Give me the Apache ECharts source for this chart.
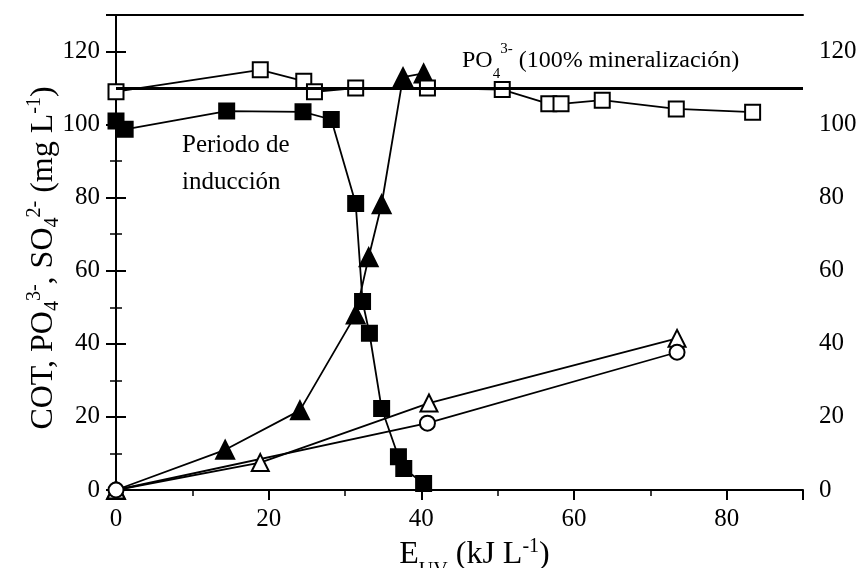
<!DOCTYPE html>
<html>
<head>
<meta charset="utf-8">
<script src="https://cdn.jsdelivr.net/npm/echarts@6/dist/echarts.min.js"></script>
<style>
  html, body { margin: 0; padding: 0; background: #fff; }
  #chart { width: 861px; height: 568px; }
</style>
</head>
<body>
<div id="chart"></div>
<script>
// data: [E_UV (kJ/L), mg/L]
var cotFilled = [[0, 101], [1.2, 98.7], [14.5, 103.7], [24.5, 103.5], [28.2, 101.4], [31.4, 78.4],
  [32.3, 51.6], [33.2, 42.9], [34.8, 22.3], [37.0, 9.1], [37.7, 5.9], [40.3, 1.8]];
var po4Open = [[0, 109], [18.9, 115], [24.6, 111.9], [26, 109], [31.4, 110], [40.8, 110],
  [50.6, 109.6], [56.7, 105.7], [58.3, 105.7], [63.7, 106.7], [73.4, 104.3], [83.4, 103.4]];
var so4Filled = [[0, 0], [14.3, 11], [24.1, 21.8], [31.4, 48], [33.1, 63.7], [34.8, 78.2],
  [37.6, 113], [40.3, 114]];
var triOpen = [[0, 0], [18.9, 7.5], [41, 23.8], [73.5, 41.5]];
var circOpen = [[0, 0], [40.8, 18.3], [73.5, 37.7]];
var mineralLevel = 110;

var font = 'Liberation Serif';

var myChart = echarts.init(document.getElementById('chart'));

function yAxisDef(pos) {
  return {
    type: 'value',
    position: pos,
    min: 0, max: 130, interval: 20,
    axisLine: { show: true, lineStyle: { color: '#000', width: 2 } },
    axisTick: { show: true, inside: false, length: 10, lineStyle: { color: '#000', width: 2 } },
    minorTick: { show: true, splitNumber: 2, length: 6, lineStyle: { color: '#000', width: 1.5 } },
    axisLabel: { color: '#000', fontFamily: font, fontSize: 25, margin: 16,
      formatter: function (v) { return v > 120 ? '' : v; } },
    splitLine: { show: false }
  };
}

function series(name, data, symbol, filled, size) {
  return {
    name: name,
    type: 'line',
    data: data,
    symbol: symbol,
    symbolSize: size,
    showAllSymbol: true,
    lineStyle: { color: '#000', width: 1.8 },
    itemStyle: { color: filled ? '#000' : '#fff', borderColor: '#000', borderWidth: 2 },
    z: filled ? 3 : 4
  };
}

var option = {
  backgroundColor: '#fff',
  animation: false,
  grid: { left: 116, right: 58, top: 15, bottom: 78, outerBoundsMode: 'none', containLabel: false },
  xAxis: [{
    type: 'value',
    min: 0, max: 90, interval: 20,
    axisLine: { show: true, onZero: false, lineStyle: { color: '#000', width: 2 } },
    axisTick: { show: true, length: 10, lineStyle: { color: '#000', width: 2 } },
    minorTick: { show: true, splitNumber: 2, length: 6, lineStyle: { color: '#000', width: 1.5 } },
    axisLabel: { color: '#000', fontFamily: font, fontSize: 25, margin: 17,
      formatter: function (v) { return v > 80 ? '' : v; } },
    splitLine: { show: false },
    name: '{n|E}{sub|UV}{n| (kJ L}{sup|-1}{n|)}',
    nameLocation: 'middle',
    nameGap: 42,
    nameTextStyle: {
      color: '#000', fontFamily: font, fontSize: 32,
      padding: [0, 0, 0, 30],
      rich: {
        n: { fontFamily: font, fontSize: 32, color: '#000', lineHeight: 36 },
        sub: { fontFamily: font, fontSize: 20, color: '#000', lineHeight: 18, verticalAlign: 'bottom', padding: [0, 0, -8, 0] },
        sup: { fontFamily: font, fontSize: 20, color: '#000', lineHeight: 18, verticalAlign: 'top' }
      }
    }
  }, {
    type: 'value',
    position: 'top',
    min: 0, max: 90,
    axisLine: { show: true, onZero: false, lineStyle: { color: '#000', width: 2 } },
    axisTick: { show: false },
    axisLabel: { show: false },
    splitLine: { show: false }
  }],
  yAxis: [yAxisDef('left'), yAxisDef('right')],
  graphic: [{
    type: 'text',
    x: 44, y: 258,
    rotation: Math.PI / 2,
    style: {
      text: '{n|COT, PO}{sub|4}{sup|3-}{n|, SO}{sub|4}{sup|2-}{n| (mg L}{sup|-1}{n|)}',
      align: 'center', verticalAlign: 'middle',
      rich: {
        n: { fontFamily: font, fontSize: 32, fill: '#000', lineHeight: 38 },
        sub: { fontFamily: font, fontSize: 20, fill: '#000', lineHeight: 18, verticalAlign: 'bottom' },
        sup: { fontFamily: font, fontSize: 20, fill: '#000', lineHeight: 18, verticalAlign: 'top' }
      }
    }
  }, {
    type: 'text',
    x: 182, y: 127,
    style: { text: 'Periodo de\ninducción', fontFamily: font, fontSize: 25, fill: '#000', lineHeight: 37 }
  }, {
    type: 'text',
    x: 462, y: 46,
    style: {
      text: '{n|PO}{sub|4}{sup|3-}{n| (100% mineralización)}',
      rich: {
        n: { fontFamily: font, fontSize: 24, fill: '#000', lineHeight: 30 },
        sub: { fontFamily: font, fontSize: 15, fill: '#000', lineHeight: 14, verticalAlign: 'bottom', padding: [0, 0, -6, 0] },
        sup: { fontFamily: font, fontSize: 15, fill: '#000', lineHeight: 14, verticalAlign: 'top', padding: [-4, 0, 0, 0] }
      }
    }
  }],
  series: [
    series('COT', cotFilled, 'rect', true, 15),
    series('PO4', po4Open, 'rect', false, 15),
    series('SO4', so4Filled, 'triangle', true, 18),
    series('open triangles', triOpen, 'triangle', false, 17),
    series('open circles', circOpen, 'circle', false, 15),
    {
      type: 'line',
      data: [],
      markLine: {
        silent: true,
        symbol: 'none',
        label: { show: false },
        lineStyle: { color: '#000', width: 3, type: 'solid' },
        data: [{ yAxis: mineralLevel }]
      },
      z: 5
    }
  ]
};

myChart.setOption(option);
</script>
</body>
</html>
